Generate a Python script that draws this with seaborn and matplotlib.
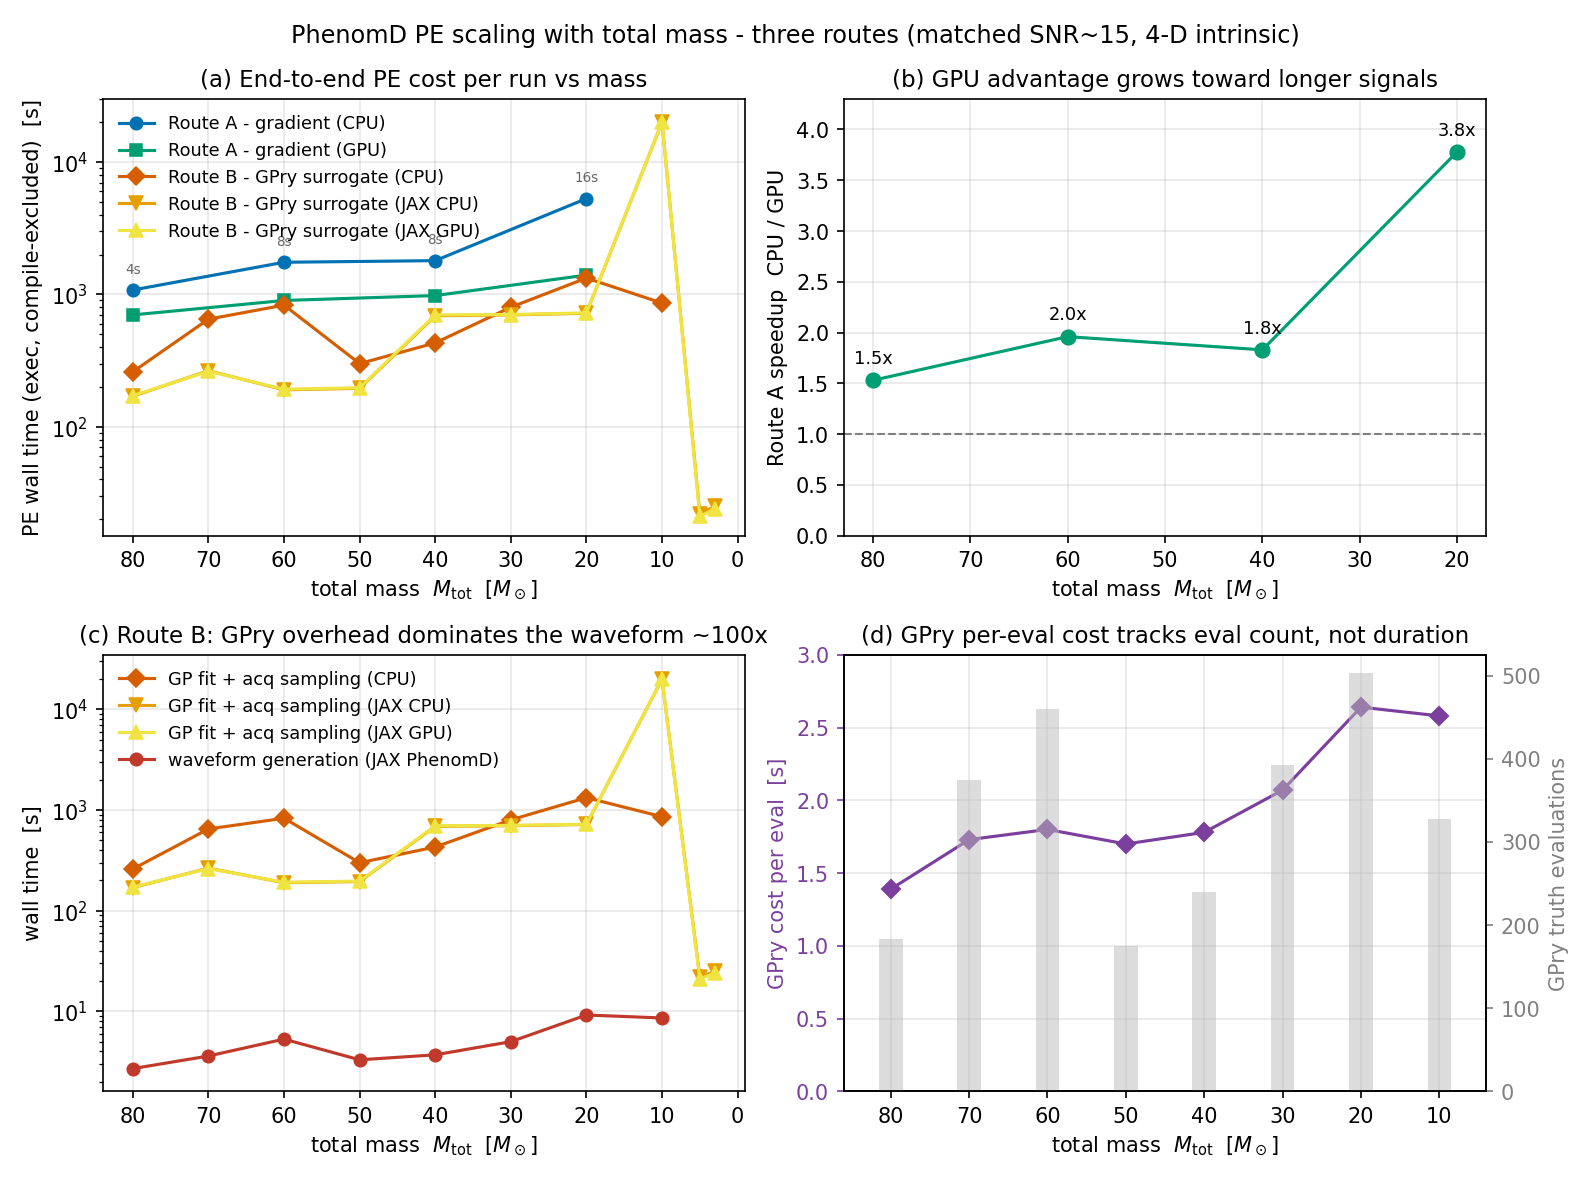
import numpy as np
import matplotlib
matplotlib.use("Agg")
import matplotlib.pyplot as plt
import seaborn as sns
import pandas as pd

plt.rcParams['font.family'] = ['DejaVu Sans']

mass_a = [80, 60, 40, 20]
a_cpu = [1080, 1750, 1800, 5300]
a_cpu_lbl = ["4s", "8s", "8s", "16s"]
a_gpu = [700, 900, 980, 1400]
mass_b = [80, 70, 60, 50, 40, 30, 20, 10]
b_cpu = [260, 650, 830, 300, 430, 800, 1330, 860]
mass_jax = [80, 70, 60, 50, 40, 30, 20, 10, 5, 3]
b_jcpu = [170, 265, 190, 195, 690, 700, 720, 20000, 22, 25]
b_jgpu = [172, 262, 192, 197, 700, 705, 725, 20000, 21, 24]
speedup = [1.53, 1.96, 1.83, 3.78]
speedup_lbl = ["1.5x", "2.0x", "1.8x", "3.8x"]
wave = [2.7, 3.6, 5.3, 3.3, 3.7, 5.0, 9.2, 8.6]
per_eval = [1.39, 1.73, 1.80, 1.70, 1.78, 2.07, 2.64, 2.58]
n_evals = [183, 375, 460, 175, 240, 392, 503, 327]

C_ACPU, C_AGPU, C_BCPU, C_JCPU, C_JGPU = "#0072B2", "#009E73", "#D55E00", "#E69F00", "#F0E442"
C_WAVE, C_PUR = "#C0392B", "#7B3F9E"

fig, axs = plt.subplots(2, 2, figsize=(10.61, 7.87), dpi=150)
fig.suptitle("PhenomD PE scaling with total mass - three routes (matched SNR~15, 4-D intrinsic)", fontsize=11.5)
xlab = r"total mass  $M_{\rm tot}$  [$M_\odot$]"

def line(ax, x, y, c, m, lab, ms=6):
    sns.lineplot(x=x, y=y, ax=ax, color=c, marker=m, markersize=ms, markeredgecolor=c,
                 label=lab, sort=False, estimator=None)

ax = axs[0, 0]
line(ax, mass_a, a_cpu, C_ACPU, "o", "Route A - gradient (CPU)")
line(ax, mass_a, a_gpu, C_AGPU, "s", "Route A - gradient (GPU)")
line(ax, mass_b, b_cpu, C_BCPU, "D", "Route B - GPry surrogate (CPU)")
line(ax, mass_jax, b_jcpu, C_JCPU, "v", "Route B - GPry surrogate (JAX CPU)", 7)
line(ax, mass_jax, b_jgpu, C_JGPU, "^", "Route B - GPry surrogate (JAX GPU)", 7)
for x, y, t in zip(mass_a, a_cpu, a_cpu_lbl):
    ax.annotate(t, (x, y), xytext=(0, 8), textcoords="offset points", ha="center", fontsize=6.5, color="#666666")
ax.set_yscale("log")
ax.set_ylim(15, 30000)
ax.set_xlim(84, -1)
ax.set_ylabel("PE wall time (exec, compile-excluded)  [s]")
ax.set_xlabel(xlab)
ax.set_title("(a) End-to-end PE cost per run vs mass", fontsize=11)
ax.grid(True, alpha=0.3)
ax.legend(loc="upper left", fontsize=8.5, frameon=False)

ax = axs[0, 1]
sns.lineplot(x=mass_a, y=speedup, ax=ax, color=C_AGPU, marker="o", markersize=7, markeredgecolor=C_AGPU, estimator=None)
for x, y, t in zip(mass_a, speedup, speedup_lbl):
    ax.annotate(t, (x, y), xytext=(0, 8), textcoords="offset points", ha="center", fontsize=8.5)
ax.axhline(1.0, color="gray", ls="--", lw=1)
ax.set_ylim(0, 4.3)
ax.set_xlim(83, 17)
ax.set_xticks([80, 70, 60, 50, 40, 30, 20])
ax.set_ylabel("Route A speedup  CPU / GPU")
ax.set_xlabel(xlab)
ax.set_title("(b) GPU advantage grows toward longer signals", fontsize=11)
ax.grid(True, alpha=0.3)

ax = axs[1, 0]
line(ax, mass_b, b_cpu, C_BCPU, "D", "GP fit + acq sampling (CPU)")
line(ax, mass_jax, b_jcpu, C_JCPU, "v", "GP fit + acq sampling (JAX CPU)", 7)
line(ax, mass_jax, b_jgpu, C_JGPU, "^", "GP fit + acq sampling (JAX GPU)", 7)
line(ax, mass_b, wave, C_WAVE, "o", "waveform generation (JAX PhenomD)")
ax.set_yscale("log")
ax.set_ylim(1.6, 35000)
ax.set_xlim(84, -1)
ax.set_ylabel("wall time  [s]")
ax.set_xlabel(xlab)
ax.set_title("(c) Route B: GPry overhead dominates the waveform ~100x", fontsize=11)
ax.grid(True, alpha=0.3)
ax.legend(loc="upper left", fontsize=8.5, frameon=False)

ax = axs[1, 1]
pos = np.arange(len(mass_b))
ax.plot(pos, per_eval, color=C_PUR, marker="D", markersize=6)
ax.set_ylim(0, 3.0)
ax.set_ylabel("GPry cost per eval  [s]", color=C_PUR)
ax.tick_params(axis="y", colors=C_PUR)
ax.set_xticks(pos)
ax.set_xticklabels([str(m) for m in mass_b])
ax.set_xlim(-0.6, 7.6)
ax.set_xlabel(xlab)
ax.grid(True, alpha=0.3)
ax.set_title("(d) GPry per-eval cost tracks eval count, not duration", fontsize=11)
ax2 = ax.twinx()
df = pd.DataFrame({"pos": pos, "n": n_evals})
ax2.bar(df["pos"], df["n"], width=0.3, color="#bbbbbb", alpha=0.5)
ax2.set_ylim(0, 525)
ax2.set_xlim(-0.6, 7.6)
ax2.set_ylabel("GPry truth evaluations", color="gray")
ax2.tick_params(axis="y", colors="gray")

fig.tight_layout()
fig.savefig("out.png", dpi=150)
